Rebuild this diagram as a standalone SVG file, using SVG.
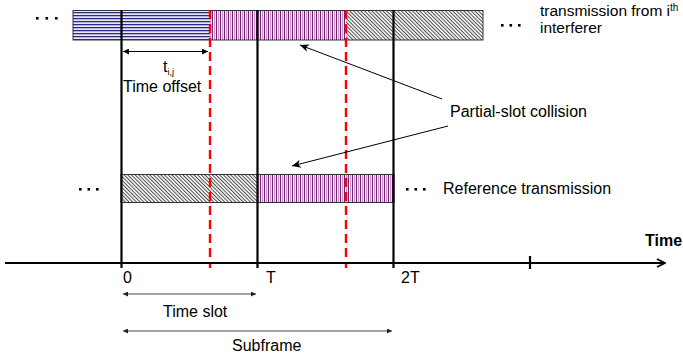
<svg xmlns="http://www.w3.org/2000/svg" width="683" height="360" viewBox="0 0 683 360">
<style>
text{font-family:"Liberation Sans",Arial,sans-serif;font-size:16px;fill:#000}
.bold{font-weight:bold}
.vl{stroke:#000;stroke-width:2.2;fill:none}
.rd{stroke:#f00;stroke-width:2.4;stroke-dasharray:9,5;fill:none}
.thin{stroke:#000;stroke-width:1;fill:none}
.gr{stroke:#444;stroke-width:1;fill:none}
.bar{stroke:#333;stroke-width:1}
</style>
<defs>
<pattern id="blue" width="4" height="3" patternUnits="userSpaceOnUse">
<rect width="4" height="3" fill="#b4b4de"/>
<rect y="0" width="4" height="1" fill="#2a2a7c"/>
<rect y="2" width="4" height="0.7" fill="#ffffff"/>
</pattern>
<pattern id="purple" width="4" height="4" patternUnits="userSpaceOnUse">
<rect width="4" height="4" fill="#ffffff"/>
<rect x="0" width="1" height="4" fill="#7a1a7a"/>
<rect x="2" width="1.3" height="4" fill="#c49ac4"/>
</pattern>
<pattern id="hatch" width="2.6" height="3" patternUnits="userSpaceOnUse" patternTransform="rotate(-45)">
<rect width="2.6" height="3" fill="#f2f2f2"/>
<rect x="0" width="0.9" height="3" fill="#4a4a4a"/>
</pattern>
<marker id="ah" viewBox="0 0 10 10" refX="10" refY="5" markerWidth="7" markerHeight="6" markerUnits="userSpaceOnUse" orient="auto-start-reverse">
<path d="M0,0 L10,5 L0,10 z" fill="#000"/>
</marker>
<marker id="ahs" viewBox="0 0 10 10" refX="10" refY="5" markerWidth="6" markerHeight="5" markerUnits="userSpaceOnUse" orient="auto-start-reverse">
<path d="M0,0 L10,5 L0,10 z" fill="#222"/>
</marker>
<marker id="ahl" viewBox="0 0 12 10" refX="11" refY="5" markerWidth="10" markerHeight="8" markerUnits="userSpaceOnUse" orient="auto">
<path d="M0,0 L11,5 L0,10 L3,5 z" fill="#000"/>
</marker>
<marker id="axh" viewBox="0 0 10 10" refX="9" refY="5" markerWidth="10" markerHeight="10" markerUnits="userSpaceOnUse" orient="auto">
<path d="M1,1 L9,5 L1,9" fill="none" stroke="#000" stroke-width="1.8"/>
</marker>
</defs>

<g id="interferer">
<rect x="73" y="10.5" width="137" height="29.5" fill="url(#blue)"/>
<rect x="210" y="10.5" width="136" height="29.5" fill="url(#purple)"/>
<rect x="346" y="10.5" width="137" height="29.5" fill="url(#hatch)"/>
<rect class="bar" x="73" y="10.5" width="410" height="29.5" fill="none"/>
<g fill="#000"><rect x="36" y="17" width="2.6" height="2.6"/><rect x="45.5" y="17" width="2.6" height="2.6"/><rect x="55" y="17" width="2.6" height="2.6"/></g>
<g fill="#000"><rect x="501" y="24" width="2.6" height="2.6"/><rect x="509.5" y="24" width="2.6" height="2.6"/><rect x="518" y="24" width="2.6" height="2.6"/></g>
<text x="540" y="16" style="font-size:15.5px">transmission from i<tspan style="font-size:10px" dy="-5">th</tspan></text>
<text x="540" y="33" style="font-size:15.5px">interferer</text>
</g>

<g id="reference">
<rect x="121" y="174.5" width="137" height="28" fill="url(#hatch)"/>
<rect x="258" y="174.5" width="136" height="28" fill="url(#purple)"/>
<rect class="bar" x="121" y="174.5" width="273" height="28" fill="none"/>
<g fill="#000"><rect x="79" y="188" width="2.6" height="2.6"/><rect x="87.5" y="188" width="2.6" height="2.6"/><rect x="96" y="188" width="2.6" height="2.6"/></g>
<g fill="#000"><rect x="406" y="188" width="2.6" height="2.6"/><rect x="414.5" y="188" width="2.6" height="2.6"/><rect x="423" y="188" width="2.6" height="2.6"/></g>
<text x="443" y="194">Reference transmission</text>
</g>

<g id="slot-lines">
<line class="vl" x1="121.5" y1="10" x2="121.5" y2="268"/>
<line class="vl" x1="257.5" y1="10" x2="257.5" y2="268"/>
<line class="vl" x1="393.5" y1="10" x2="393.5" y2="268"/>
<line class="vl" x1="530" y1="256" x2="530" y2="269"/>
<line class="rd" x1="210" y1="10" x2="210" y2="268"/>
<line class="rd" x1="346" y1="10" x2="346" y2="268"/>
</g>

<g id="axis">
<line x1="5" y1="263" x2="665" y2="263" stroke="#000" stroke-width="2.2" marker-end="url(#axh)"/>
<text class="bold" x="645" y="246">Time</text>
<text x="123" y="283">0</text>
<text x="266" y="283">T</text>
<text x="401" y="283">2T</text>
</g>

<g id="labels">
<text x="163" y="72">t<tspan style="font-size:9px" dy="3">i,j</tspan></text>
<text x="123" y="92">Time offset</text>
<text x="163" y="317">Time slot</text>
<text x="232" y="351">Subframe</text>
<text x="450" y="117">Partial-slot collision</text>
</g>

<g id="connectors">
<line class="thin" x1="123" y1="51.5" x2="208" y2="51.5" marker-start="url(#ah)" marker-end="url(#ah)"/>
<line class="gr" x1="123" y1="294" x2="256" y2="294" marker-start="url(#ahs)" marker-end="url(#ahs)"/>
<line class="gr" x1="123" y1="331" x2="392" y2="331" marker-start="url(#ahs)" marker-end="url(#ahs)"/>
<line class="thin" x1="442" y1="99" x2="300" y2="45" marker-end="url(#ahl)"/>
<line class="thin" x1="448" y1="126" x2="292" y2="166" marker-end="url(#ahl)"/>
</g>
</svg>
